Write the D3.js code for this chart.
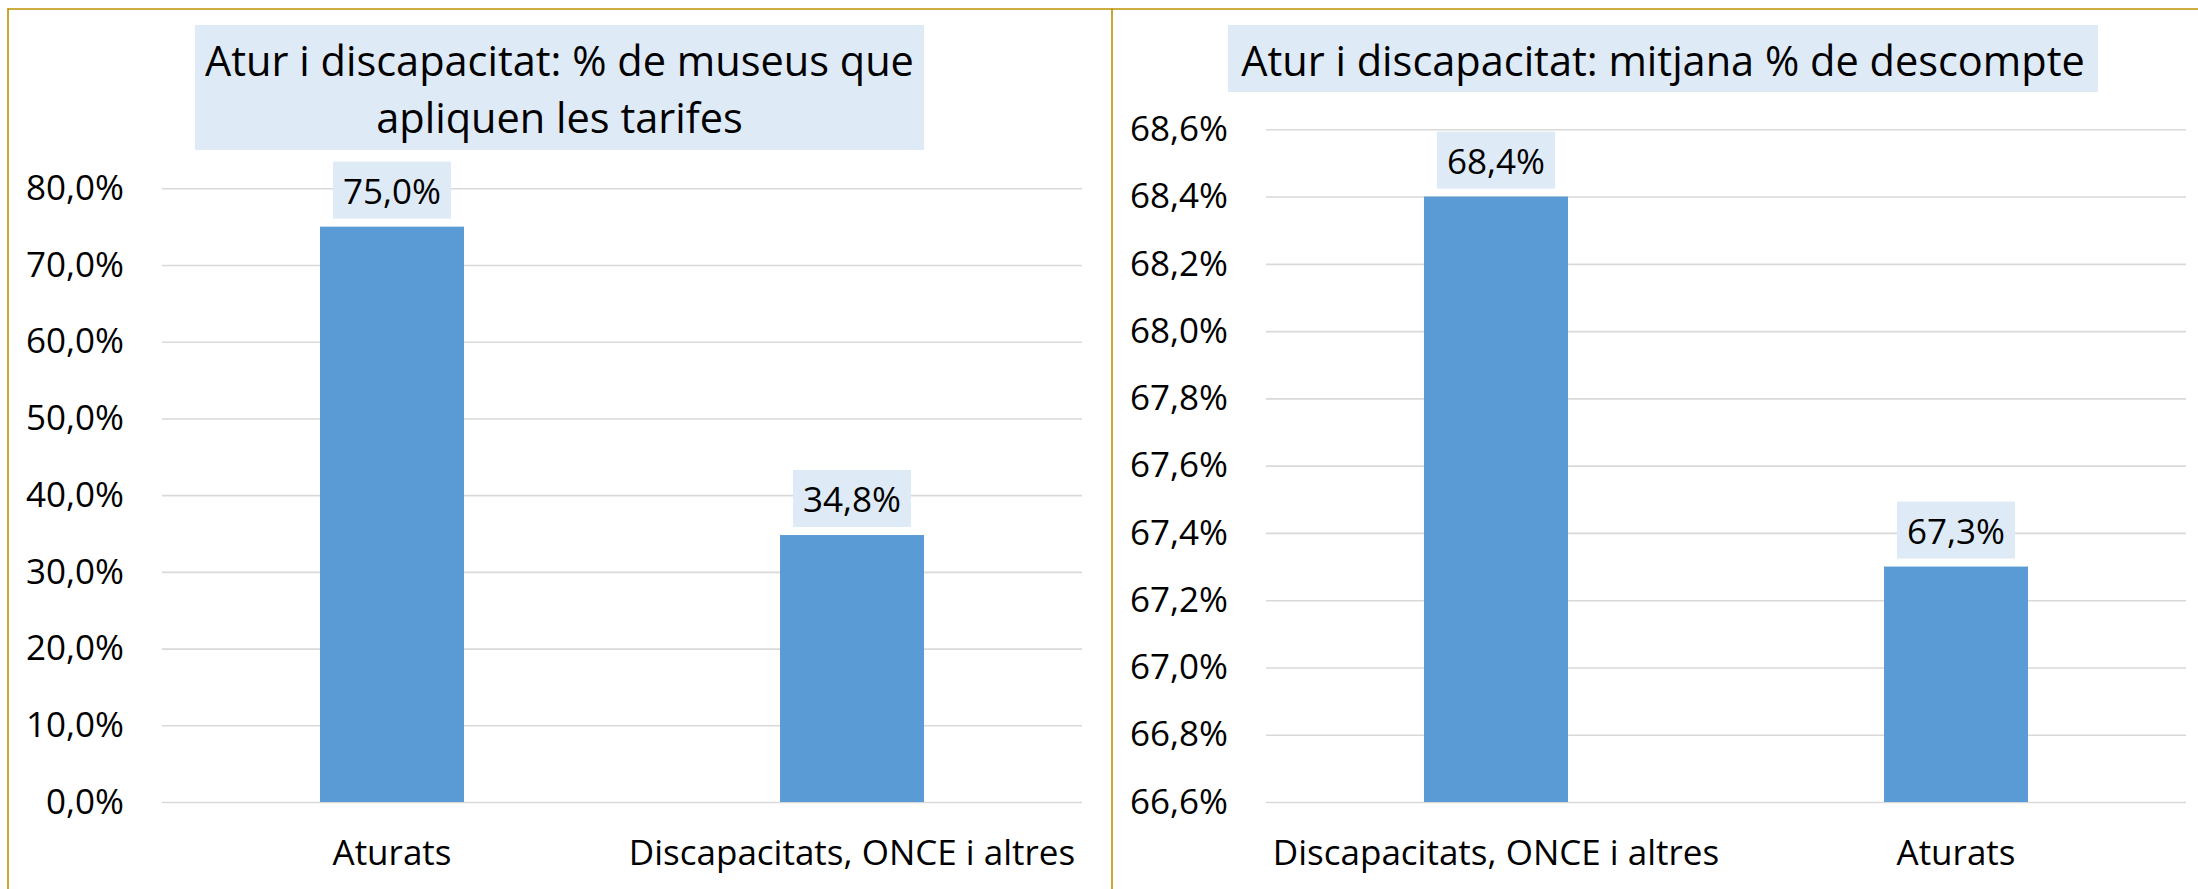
<!DOCTYPE html>
<html>
<head>
<meta charset="utf-8">
<script src="https://cdn.jsdelivr.net/npm/d3@7"></script>
<style>
  html, body { margin: 0; padding: 0; background: #ffffff; }
  svg { display: block; }
  text { font-family: "Open Sans", "Noto Sans", sans-serif; fill: #000; }
</style>
</head>
<body>
<svg id="chart" width="2198" height="889"></svg>
<script>
// ---- data ----
const leftTitle = ["Atur i discapacitat: % de museus que", "apliquen les tarifes"];
const leftCategories = ["Aturats", "Discapacitats, ONCE i altres"];
const leftValues = [75.0, 34.8];
const leftTicks = [0, 10, 20, 30, 40, 50, 60, 70, 80];

const rightTitle = ["Atur i discapacitat: mitjana % de descompte"];
const rightCategories = ["Discapacitats, ONCE i altres", "Aturats"];
const rightValues = [68.4, 67.3];
const rightTicks = [66.6, 66.8, 67.0, 67.2, 67.4, 67.6, 67.8, 68.0, 68.2, 68.4, 68.6];

// ---- styles ----
const BAR = "#5B9BD5";
const BOX = "#DEEAF6";
const GRID = "#D9D9D9";
const GOLD = "#BF9000";

const locale = d3.formatLocale({decimal: ",", thousands: ".", grouping: [3], currency: ["", "€"]});
const fmt1 = v => locale.format(".1f")(v) + "%";

const svg = d3.select("#chart");

function panel(cfg) {
  const g = svg.append("g");
  const x = d3.scaleBand().domain(cfg.categories)
    .range([cfg.x0, cfg.x1]).paddingInner(0.687).paddingOuter(0.3435);
  const y = d3.scaleLinear().domain(cfg.domain).range([cfg.yBottom, cfg.yTop]);

  // gridlines via axis
  const grid = g.append("g").attr("transform", `translate(${cfg.x0},0)`)
    .call(d3.axisRight(y).tickValues(cfg.ticks).tickSize(cfg.x1 - cfg.x0).tickFormat(""));
  grid.select(".domain").remove();
  grid.selectAll("line").attr("stroke", GRID).attr("stroke-width", 1.6);

  // y tick labels
  const yAxis = g.append("g").attr("transform", `translate(${cfg.labelX},0)`)
    .call(d3.axisLeft(y).tickValues(cfg.ticks).tickSize(0).tickPadding(0).tickFormat(fmt1));
  yAxis.select(".domain").remove();
  yAxis.selectAll("text").attr("font-size", 35).attr("font-family", "Open Sans").attr("fill", "#000");

  // bars
  g.selectAll("rect.bar").data(cfg.values).enter().append("rect")
    .attr("class", "bar")
    .attr("x", (d, i) => x(cfg.categories[i]))
    .attr("width", x.bandwidth())
    .attr("y", d => y(d))
    .attr("height", d => cfg.yBottom - y(d))
    .attr("fill", BAR);

  // value labels with boxes
  cfg.values.forEach((v, i) => {
    const cx = x(cfg.categories[i]) + x.bandwidth() / 2;
    const boxBottom = y(v) - 8;
    const lg = g.append("g");
    const t = lg.append("text")
      .attr("x", cx).attr("y", boxBottom - 28.5)
      .attr("text-anchor", "middle").attr("dominant-baseline", "central")
      .attr("font-size", 35).text(fmt1(v));
    const w = t.node().getComputedTextLength();
    lg.insert("rect", "text")
      .attr("x", cx - w / 2 - 10).attr("y", boxBottom - 57)
      .attr("width", w + 20).attr("height", 57).attr("fill", BOX);
  });

  // x axis labels
  const xAxis = g.append("g").attr("transform", `translate(0,${cfg.yBottom})`)
    .call(d3.axisBottom(x).tickSize(0).tickPadding(0));
  xAxis.select(".domain").remove();
  xAxis.selectAll("text").attr("font-size", 35).attr("font-family", "Open Sans")
    .attr("fill", "#000").attr("dy", null).attr("y", 63);

  // title box
  const tg = g.append("g");
  const lines = cfg.title;
  tg.selectAll("text").data(lines).enter().append("text")
    .attr("x", cfg.titleCx)
    .attr("y", (d, i) => cfg.titleBase + i * 57)
    .attr("text-anchor", "middle")
    .attr("font-size", cfg.titleSize)
    .text(d => d);
  tg.insert("rect", "text")
    .attr("x", cfg.titleBox[0]).attr("y", cfg.titleBox[1])
    .attr("width", cfg.titleBox[2] - cfg.titleBox[0])
    .attr("height", cfg.titleBox[3] - cfg.titleBox[1])
    .attr("fill", BOX);
}

panel({
  categories: leftCategories, values: leftValues, ticks: leftTicks,
  domain: [0, 80], x0: 162, x1: 1082, yBottom: 802, yTop: 188.3, labelX: 124,
  title: leftTitle, titleCx: 559.5, titleBase: 76, titleSize: 41.5,
  titleBox: [195, 25, 924, 150]
});

panel({
  categories: rightCategories, values: rightValues, ticks: rightTicks,
  domain: [66.6, 68.6], x0: 1266, x1: 2186, yBottom: 802, yTop: 129.3, labelX: 1228,
  title: rightTitle, titleCx: 1663, titleBase: 76, titleSize: 41.5,
  titleBox: [1228, 25, 2098, 92]
});

// borders
svg.append("line").attr("x1", 7.5).attr("x2", 2198).attr("y1", 9).attr("y2", 9)
  .attr("stroke", GOLD).attr("stroke-width", 1.6);
svg.append("line").attr("x1", 8).attr("x2", 8).attr("y1", 8.5).attr("y2", 889)
  .attr("stroke", GOLD).attr("stroke-width", 1.6);
svg.append("line").attr("x1", 1112).attr("x2", 1112).attr("y1", 8.5).attr("y2", 889)
  .attr("stroke", GOLD).attr("stroke-width", 1.6);
</script>
</body>
</html>
